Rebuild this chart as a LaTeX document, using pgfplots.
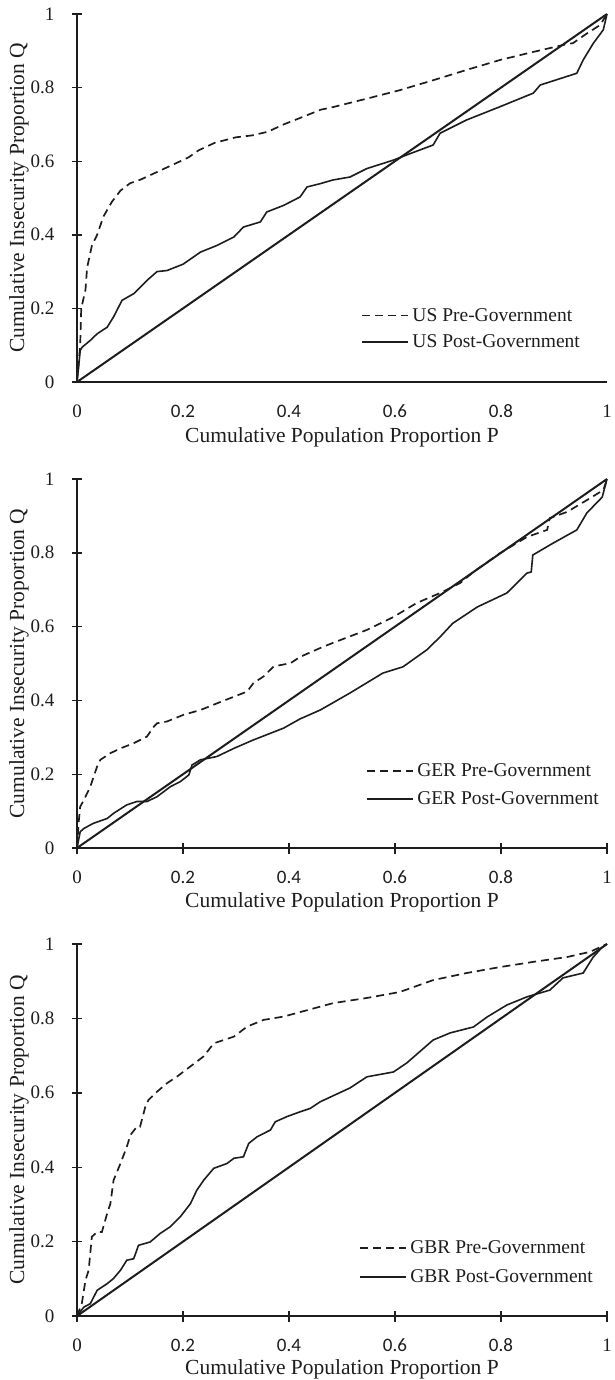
\documentclass[border=0pt]{standalone}
\usepackage{fontspec}
\setmainfont{Liberation Serif}
\newfontfamily\sansx{Carlito}
\usepackage{pgfplots}
\pgfplotsset{compat=1.18}
\definecolor{ink}{rgb}{0.12,0.11,0.11}
\newcommand\lab{\fontsize{21.5}{22}\selectfont}
\pgfplotsset{
  lorenz/.style={
    scale only axis, width=530pt, clip=false,
    xmin=0,xmax=1,ymin=0,ymax=1,
    axis lines*=left,
    axis line style={line width=2.2pt,-,ink},
    tick align=center,
    major tick length=11pt,
    tick style={line width=1.4pt,ink},
    xtick={0,0.2,0.4,0.6,0.8,1},
    xticklabels={{\rmfamily 0},{\sansx 0.2},{\sansx 0.4},{\sansx 0.6},{\sansx 0.8},{\rmfamily 1}},
    ytick={0,0.2,0.4,0.6,0.8,1},
    yticklabels={0,0.2,0.4,0.6,0.8,1},
    ticklabel style={font=\fontsize{19}{19}\selectfont, text=ink},
    xticklabel style={anchor=north, inner sep=0pt},
    xticklabel shift=17pt,
    yticklabel style={anchor=east, inner sep=0pt},
    yticklabel shift=17pt,
    legend style={draw=none, fill=none, inner sep=0pt, anchor=west,
      font=\fontsize{19.5}{19.5}\selectfont, text=ink, legend cell align=left,
      nodes={inner sep=3.5pt}},
    legend image code/.code={\draw[##1] (0pt,0pt) -- (46pt,0pt);},
    pre/.style={ink, line width=1.7pt, dash pattern=on 8pt off 5pt},
    post/.style={ink, line width=1.6pt},
    diag/.style={ink, line width=2pt, forget plot},
  }
}
\newcommand\labels[1]{%
  \node[yshift=-#1, font=\lab, text=ink, anchor=center] at (axis description cs:0.5,0) {Cumulative Population Proportion P};
  \node[xshift=-58pt, rotate=90, font=\lab, text=ink, anchor=center] at (axis description cs:0,0.5) {Cumulative Insecurity Proportion Q};
}
\begin{document}
\begin{tikzpicture}
\useasboundingbox (0pt,0pt) rectangle (614pt,-1380pt);
% ---------- US ----------
\begin{axis}[lorenz, height=368pt, at={(77pt,-382pt)}, anchor=south west,
  xtick style={draw=none},
  legend style={at={(axis cs:0.536,0.145)}, row sep=5pt}]
\addplot[pre] coordinates {(0,0) (0.003,0.05) (0.006,0.10) (0.008,0.20) (0.016,0.25) (0.019,0.31) (0.028,0.37) (0.038,0.40) (0.050,0.45) (0.066,0.49) (0.082,0.52) (0.10,0.54) (0.12,0.55) (0.15,0.57) (0.18,0.59) (0.21,0.61) (0.23,0.63) (0.26,0.65) (0.30,0.665) (0.33,0.67) (0.36,0.68) (0.39,0.70) (0.42,0.717) (0.46,0.74) (0.483,0.747) (0.547,0.77) (0.609,0.793) (0.672,0.82) (0.735,0.848) (0.798,0.875) (0.861,0.897) (0.918,0.916) (0.936,0.921) (0.962,0.947) (0.987,0.97) (1,1)};
\addlegendentry{US Pre-Government}
\addplot[post] coordinates {(0,0) (0.003,0.04) (0.006,0.086) (0.010,0.095) (0.025,0.113) (0.038,0.131) (0.057,0.149) (0.069,0.177) (0.085,0.222) (0.107,0.24) (0.132,0.276) (0.151,0.30) (0.17,0.303) (0.20,0.32) (0.233,0.353) (0.264,0.371) (0.296,0.394) (0.314,0.421) (0.346,0.435) (0.358,0.462) (0.39,0.48) (0.421,0.503) (0.434,0.53) (0.459,0.539) (0.483,0.549) (0.515,0.557) (0.547,0.58) (0.597,0.603) (0.622,0.617) (0.672,0.644) (0.685,0.676) (0.735,0.712) (0.798,0.748) (0.861,0.785) (0.874,0.807) (0.943,0.839) (0.955,0.875) (0.974,0.92) (0.993,0.957) (1,1)};
\addlegendentry{US Post-Government}
\addplot[diag] coordinates {(0,0) (1,1)};
\labels{55pt}
\end{axis}
% ---------- GER ----------
\begin{axis}[lorenz, height=369pt, at={(77pt,-848pt)}, anchor=south west,
  legend style={at={(axis cs:0.545,0.171)}, row sep=7pt}]
\addplot[pre] coordinates {(0,0) (0.003,0.067) (0.006,0.112) (0.013,0.130) (0.025,0.166) (0.038,0.221) (0.044,0.239) (0.063,0.257) (0.082,0.270) (0.107,0.284) (0.132,0.302) (0.145,0.329) (0.151,0.338) (0.170,0.343) (0.201,0.361) (0.233,0.374) (0.264,0.392) (0.296,0.410) (0.321,0.424) (0.333,0.447) (0.352,0.465) (0.371,0.492) (0.403,0.501) (0.421,0.518) (0.459,0.542) (0.483,0.556) (0.547,0.591) (0.597,0.626) (0.641,0.664) (0.685,0.691) (0.723,0.718) (0.748,0.748) (0.798,0.799) (0.849,0.843) (0.887,0.862) (0.892,0.894) (0.925,0.911) (0.968,0.948) (0.993,0.970) (1,1)};
\addlegendentry{GER Pre-Government}
\addplot[post] coordinates {(0,0) (0.006,0.044) (0.013,0.053) (0.031,0.067) (0.057,0.080) (0.069,0.094) (0.094,0.117) (0.113,0.126) (0.132,0.126) (0.151,0.139) (0.176,0.166) (0.195,0.180) (0.211,0.198) (0.217,0.225) (0.233,0.239) (0.264,0.248) (0.296,0.270) (0.333,0.293) (0.358,0.307) (0.39,0.325) (0.421,0.350) (0.459,0.374) (0.515,0.42) (0.577,0.474) (0.615,0.491) (0.66,0.537) (0.685,0.572) (0.709,0.609) (0.755,0.653) (0.811,0.691) (0.849,0.745) (0.857,0.748) (0.860,0.794) (0.898,0.826) (0.943,0.862) (0.962,0.908) (0.991,0.951) (1,1)};
\addlegendentry{GER Post-Government}
\addplot[diag] coordinates {(0,0) (1,1)};
\labels{54pt}
\end{axis}
% ---------- GBR ----------
\begin{axis}[lorenz, height=372pt, at={(77pt,-1316pt)}, anchor=south west,
  legend style={at={(axis cs:0.532,0.144)}, row sep=8pt}]
\addplot[pre] coordinates {(0,0) (0.009,0.033) (0.016,0.096) (0.022,0.123) (0.028,0.213) (0.038,0.226) (0.047,0.226) (0.057,0.276) (0.063,0.302) (0.069,0.365) (0.082,0.41) (0.094,0.455) (0.101,0.487) (0.113,0.509) (0.119,0.509) (0.129,0.563) (0.135,0.581) (0.151,0.603) (0.170,0.626) (0.189,0.644) (0.214,0.671) (0.239,0.698) (0.258,0.733) (0.296,0.751) (0.321,0.778) (0.352,0.796) (0.39,0.805) (0.421,0.817) (0.483,0.841) (0.547,0.855) (0.609,0.871) (0.672,0.903) (0.735,0.922) (0.798,0.938) (0.861,0.952) (0.925,0.965) (0.968,0.979) (1,1)};
\addlegendentry{GBR Pre-Government}
\addplot[post] coordinates {(0,0) (0.013,0.024) (0.025,0.033) (0.038,0.069) (0.057,0.087) (0.069,0.101) (0.082,0.123) (0.094,0.15) (0.107,0.154) (0.116,0.19) (0.138,0.199) (0.157,0.222) (0.176,0.24) (0.195,0.267) (0.214,0.302) (0.226,0.338) (0.239,0.365) (0.258,0.397) (0.283,0.41) (0.296,0.424) (0.314,0.428) (0.324,0.464) (0.34,0.482) (0.365,0.5) (0.374,0.522) (0.396,0.536) (0.421,0.549) (0.44,0.558) (0.459,0.576) (0.515,0.613) (0.547,0.643) (0.597,0.656) (0.622,0.680) (0.672,0.742) (0.704,0.761) (0.748,0.777) (0.774,0.804) (0.811,0.836) (0.849,0.858) (0.892,0.876) (0.917,0.909) (0.955,0.922) (0.974,0.965) (0.99,0.99) (1,1)};
\addlegendentry{GBR Post-Government}
\addplot[diag] coordinates {(0,0) (1,1)};
\labels{53pt}
\end{axis}
\end{tikzpicture}
\end{document}
